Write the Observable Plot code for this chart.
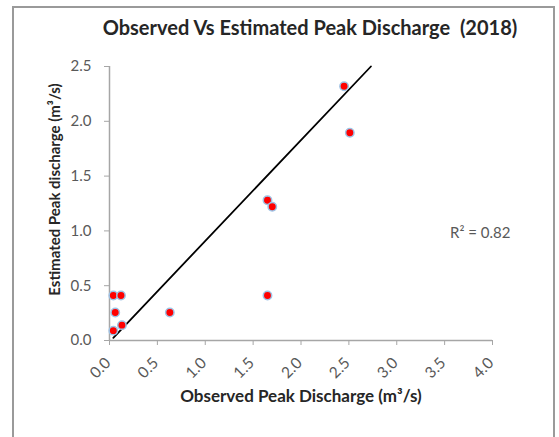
<!DOCTYPE html>
<html>
<head>
<meta charset="utf-8">
<script src="https://cdn.jsdelivr.net/npm/d3@7"></script>
<script src="https://cdn.jsdelivr.net/npm/@observablehq/plot@0.6"></script>
<style>
  html, body { margin: 0; padding: 0; background: #fff; overflow: hidden; }
  #wrap { position: relative; width: 559px; height: 437px; overflow: hidden; }
  #frame { position: absolute; left: 12px; top: 6px; width: 543px; height: 460px; border: 2px solid #9a9a9a; box-sizing: border-box; }
  #title { position: absolute; left: 0; width: 620px; top: 15px; text-align: center; font-family: Lato, "Open Sans", sans-serif; font-weight: bold; font-size: 20px; color: #262626; white-space: pre; }
  #chart { position: absolute; left: 0; top: 0; }
</style>
</head>
<body>
<div id="wrap">
  <div id="frame"></div>
  <div id="chart"></div>
  <div id="title"></div>
</div>
<script>
const title = "Observed Vs Estimated Peak Discharge  (2018)";
const xLabel = "Observed Peak Discharge (m³/s)";
const yLabel = "Estimated Peak discharge (m³/s)";
const r2Label = "R² = 0.82";

const observed  = [0.04, 0.12, 0.06, 0.04, 0.13, 0.63, 1.65, 1.65, 1.70, 2.45, 2.51];
const estimated = [0.41, 0.41, 0.255, 0.09, 0.14, 0.255, 0.41, 1.28, 1.22, 2.32, 1.895];

const fitX = [0.04, 2.73];
const fitY = [0.025, 2.5];

const xTicks = [0, 0.5, 1.0, 1.5, 2.0, 2.5, 3.0, 3.5, 4.0];
const yTicks = [0, 0.5, 1.0, 1.5, 2.0, 2.5];

const points = observed.map((x, i) => ({x, y: estimated[i]}));
const fit = fitX.map((x, i) => ({x, y: fitY[i]}));

document.getElementById("title").textContent = title;

const axisGrey = "#a6a6a6";
const textGrey = "#595959";
const fmt = d3.format(".1f");

const chart = Plot.plot({
  width: 559,
  height: 437,
  marginLeft: 109,
  marginRight: 67,
  marginTop: 66,
  marginBottom: 97,
  style: {fontFamily: "Lato, 'Open Sans', sans-serif", fontSize: "15px", background: "transparent"},
  x: {domain: [0, 4]},
  y: {domain: [0, 2.5]},
  marks: [
    Plot.ruleX([0], {y1: 0, y2: 2.5, stroke: axisGrey, strokeWidth: 1.5}),
    Plot.ruleY([0], {x1: 0, x2: 4, stroke: axisGrey, strokeWidth: 1.5}),
    Plot.axisY({ticks: yTicks, tickFormat: fmt, tickSize: 5, tickPadding: 13, stroke: axisGrey, fill: textGrey, label: null}),
    Plot.axisX({ticks: xTicks, tickSize: 5, text: null, stroke: axisGrey, label: null}),
    Plot.axisX({ticks: xTicks, tickFormat: fmt, tickSize: 5, tickPadding: 4, tickRotate: -45, dx: -1.5, dy: 11, stroke: "none", fill: textGrey, label: null, fontSize: 15.5}),
    Plot.line(fit, {x: "x", y: "y", stroke: "#000", strokeWidth: 1.8}),
    Plot.dot(points, {x: "x", y: "y", r: 4.2, fill: "#ff0000", stroke: "#9dc3e6", strokeWidth: 1.5}),
    Plot.text([r2Label], {frameAnchor: "right", textAnchor: "end", dx: 18, dy: 30, fill: textGrey, fontSize: 15}),
    Plot.text([xLabel], {frameAnchor: "bottom", dy: 61, fill: "#262626", fontWeight: "bold", fontSize: 17}),
    Plot.text([yLabel], {frameAnchor: "left", textAnchor: "middle", rotate: -90, dx: -54, dy: -14, fill: "#262626", fontWeight: "bold", fontSize: 15})
  ]
});
document.getElementById("chart").appendChild(chart);
</script>
</body>
</html>
